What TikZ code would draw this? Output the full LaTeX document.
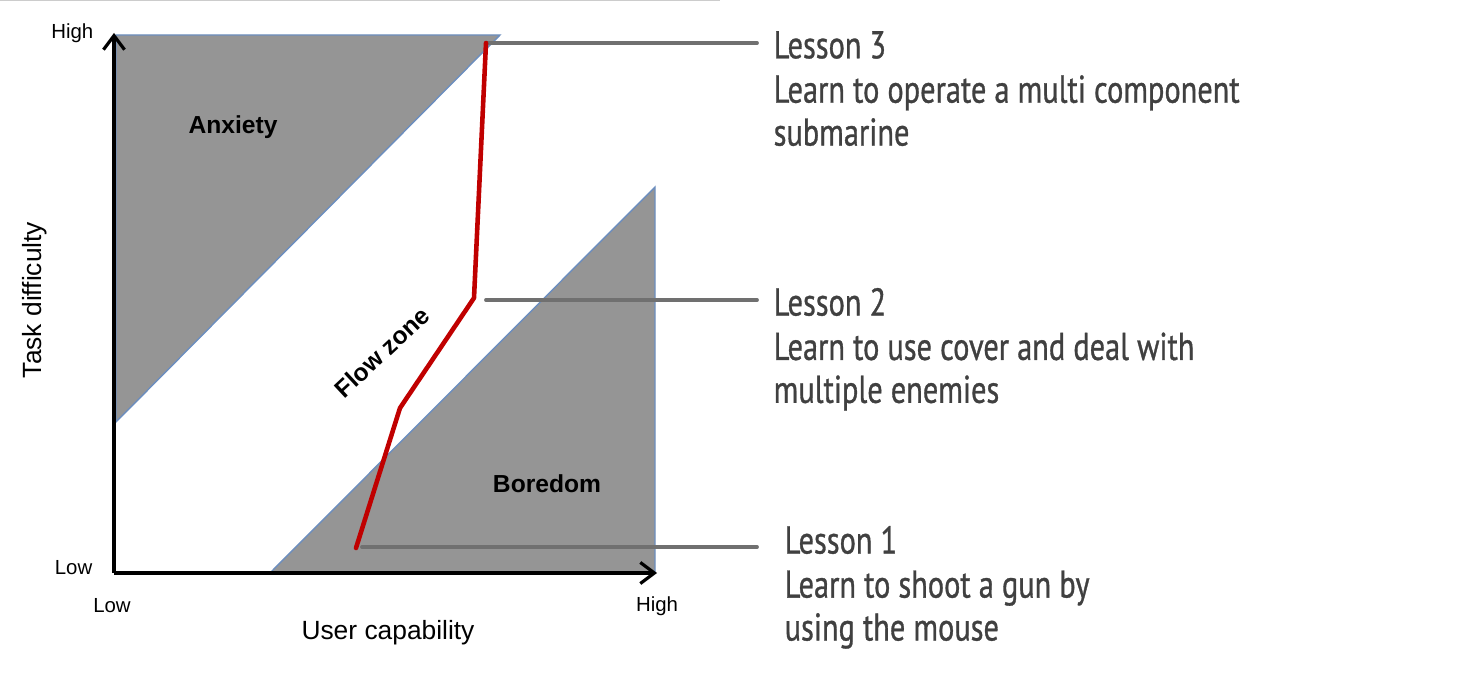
\documentclass[tikz,border=0pt]{standalone}
\usepackage{fontspec}
\setmainfont{Liberation Sans}
\newfontfamily\lessonfont[FakeStretch=0.785, FakeBold=0.8]{PT Sans}
\usepackage{xcolor}
\usepackage{tikz}
\usetikzlibrary{positioning,arrows.meta,calc}
\definecolor{ZoneGray}{HTML}{959595}
\definecolor{ZoneEdge}{HTML}{6C8EBF}
\definecolor{PathRed}{HTML}{C00000}
\definecolor{LinkGray}{HTML}{707070}
\definecolor{TextDark}{HTML}{404040}
\definecolor{RuleGray}{HTML}{CCCCCC}
\tikzset{
  zone/.style={fill=ZoneGray, draw=ZoneEdge, line width=0.4pt},
  axis/.style={line width=0.9pt, -{Straight Barb[length=4pt,width=6pt]}},
  tick/.style={inner sep=0pt, font=\fontsize{5.8}{7}\selectfont},
  zonelabel/.style={inner sep=0pt, font=\bfseries\fontsize{7}{8}\selectfont},
  link/.style={draw=LinkGray, line width=1.1pt, line cap=round},
  lessontitle/.style={inner sep=0pt, text=TextDark, font=\lessonfont\fontsize{11}{12.2}\selectfont},
  lessonbody/.style={inner sep=0pt, align=left, text=TextDark, font=\lessonfont\fontsize{11}{12.2}\selectfont}
}

\begin{document}
\begin{tikzpicture}[x=0.01cm, y=-0.01cm]
  \useasboundingbox (0,0) rectangle (1478,676);
  \draw[RuleGray, line width=0.5pt] (0,0.5) -- (720,0.5);

  % zones
  \draw[zone] (116,35) -- (500,35) -- (116,422) -- cycle;
  \draw[zone] (270,573) -- (655,187) -- (655,573) -- cycle;

  % axes
  \coordinate (origin) at (114,573);
  \coordinate (ytop) at (114,33);
  \coordinate (xend) at (657,573);
  \draw[axis] (origin) -- (ytop);
  \draw[axis] (origin) -- (xend);

  \node[tick, anchor=east] (ylow) at (93,568) {Low};
  \node[tick, anchor=east] (yhigh) at (94,33) {High};
  \node[tick] (xlow) at (112,606) {Low};
  \node[tick] (xhigh) at (657,606) {High};
  \node[inner sep=0pt, font=\fontsize{7.5}{9}\selectfont] (xlabel) at (388,633) {User capability};
  \node[inner sep=0pt, rotate=90, font=\fontsize{7.5}{9}\selectfont] (ylabel) at (35,300) {Task difficulty};

  \node[zonelabel] (anxiety) at (233,127) {Anxiety};
  \node[zonelabel] (boredom) at (547,484) {Boredom};
  \node[zonelabel, rotate=43] (flow) at (382,352) {Flow zone};

  % learning path
  \coordinate (p1) at (356,548);
  \coordinate (p2) at (400,408);
  \coordinate (p3) at (474,298);
  \coordinate (p4) at (486,43);
  \coordinate (c1) at (362,547);
  \coordinate (c2) at (486,300);

  % lessons
  \node[lessontitle, anchor=west] (t3) at (773,45) {Lesson 3};
  \node[lessonbody, below=4.3pt of t3.south west, anchor=north west] (d3) {Learn to operate a multi component\\submarine};
  \node[lessontitle, anchor=west] (t2) at (773,302) {Lesson 2};
  \node[lessonbody, below=4.3pt of t2.south west, anchor=north west] (d2) {Learn to use cover and deal with\\multiple enemies};
  \node[lessontitle, anchor=west] (t1) at (784,540) {Lesson 1};
  \node[lessonbody, below=4.3pt of t1.south west, anchor=north west] (d1) {Learn to shoot a gun by\\using the mouse};

  \draw[link, shorten >=0.16cm] (p4) -- (p4 -| t3.west);
  \draw[link, shorten >=0.16cm] (c2) -- (c2 -| t3.west);
  \draw[link, shorten >=0.27cm] (c1) -- (c1 -| t1.west);

  \draw[PathRed, line width=1.3pt, line cap=round, line join=round] (p1) -- (p2) -- (p3) -- (p4);
\end{tikzpicture}
\end{document}
